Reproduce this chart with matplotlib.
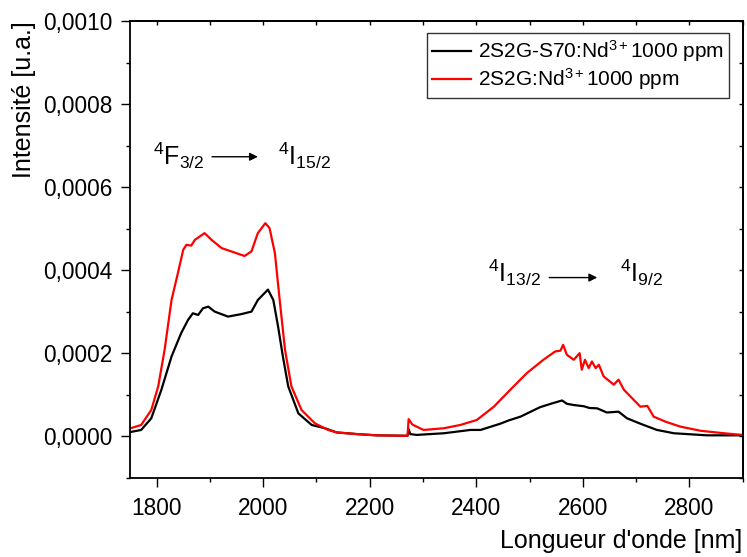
import matplotlib
matplotlib.use("Agg")
import matplotlib.pyplot as plt
from matplotlib.ticker import MultipleLocator, FuncFormatter
import numpy as np

plt.rcParams['font.family'] = ['Liberation Sans', 'DejaVu Sans']
plt.rcParams['mathtext.fontset'] = 'custom'
plt.rcParams['mathtext.rm'] = 'Liberation Sans'
plt.rcParams['mathtext.it'] = 'Liberation Sans:italic'
plt.rcParams['mathtext.bf'] = 'Liberation Sans:bold'

# Emission spectra (intensity in units of 1e-4 a.u.)
SCALE = 1e-4

black_x = [1751, 1771, 1790, 1809, 1828, 1846, 1859, 1868, 1878, 1887, 1897, 1909,
           1934, 1959, 1978, 1990, 2009, 2019, 2028, 2037, 2047, 2066, 2091, 2116,
           2138, 2176, 2213, 2263, 2271, 2273, 2276, 2288, 2339, 2389, 2408, 2445,
           2461, 2483, 2520, 2545, 2561, 2570, 2583, 2602, 2612, 2627, 2645, 2667,
           2683, 2708, 2739, 2771, 2833, 2899]
black_y = [0.10, 0.15, 0.43, 1.12, 1.92, 2.48, 2.80, 2.96, 2.92, 3.08, 3.12, 3.00,
           2.88, 2.94, 3.00, 3.28, 3.53, 3.28, 2.64, 1.92, 1.20, 0.55, 0.27, 0.19,
           0.09, 0.05, 0.02, 0.01, 0.01, 0.17, 0.05, 0.03, 0.07, 0.15, 0.15, 0.30,
           0.38, 0.47, 0.70, 0.80, 0.86, 0.78, 0.75, 0.72, 0.68, 0.67, 0.57, 0.59,
           0.43, 0.30, 0.15, 0.07, 0.02, 0.02]

red_x = [1751, 1771, 1790, 1803, 1815, 1828, 1840, 1850, 1856, 1865, 1872, 1890,
         1903, 1922, 1947, 1965, 1978, 1990, 2004, 2012, 2022, 2031, 2041, 2053,
         2072, 2097, 2122, 2138, 2176, 2213, 2263, 2271, 2273, 2280, 2288, 2301,
         2339, 2370, 2401, 2433, 2464, 2495, 2526, 2548, 2558, 2563, 2570, 2583,
         2594, 2598, 2604, 2611, 2617, 2624, 2630, 2639, 2658, 2667, 2677, 2692,
         2708, 2721, 2733, 2755, 2783, 2821, 2865, 2899]
red_y = [0.19, 0.27, 0.63, 1.20, 2.08, 3.28, 3.93, 4.49, 4.61, 4.59, 4.73, 4.89,
         4.73, 4.53, 4.42, 4.34, 4.45, 4.89, 5.13, 5.01, 4.41, 3.28, 2.08, 1.20,
         0.63, 0.31, 0.15, 0.09, 0.05, 0.02, 0.01, 0.01, 0.41, 0.28, 0.23, 0.15,
         0.19, 0.27, 0.39, 0.71, 1.12, 1.52, 1.84, 2.04, 2.06, 2.20, 1.96, 1.84,
         2.00, 1.60, 1.84, 1.64, 1.80, 1.64, 1.72, 1.44, 1.24, 1.36, 1.12, 0.92,
         0.71, 0.73, 0.47, 0.35, 0.23, 0.13, 0.07, 0.03]

labels = ["2S2G-S70:Nd$\\mathregular{^{3+}}$1000 ppm",
          "2S2G:Nd$\\mathregular{^{3+}}$1000 ppm"]

fig = plt.figure(figsize=(7.47, 5.57), dpi=100)
ax = fig.add_axes([0.174, 0.1424, 0.8202, 0.8199])

ax.plot(black_x, np.array(black_y) * SCALE, color='black', lw=1.6, label=labels[0])
ax.plot(red_x, np.array(red_y) * SCALE, color='red', lw=1.6, label=labels[1])

ax.set_xlim(1750, 2900)
ax.set_ylim(-0.0001, 0.0010)

ax.xaxis.set_major_locator(MultipleLocator(200))
ax.xaxis.set_minor_locator(MultipleLocator(100))
ax.yaxis.set_major_locator(MultipleLocator(0.0002))
ax.yaxis.set_minor_locator(MultipleLocator(0.0001))
ax.yaxis.set_major_formatter(FuncFormatter(
    lambda v, p: f"{abs(v) if abs(v) < 1e-12 else v:.4f}".replace('.', ',')))

ax.tick_params(which='major', direction='out', length=6.5, width=1.0,
               labelsize=16.3)
ax.tick_params(axis='x', which='major', pad=7.5)
ax.tick_params(axis='y', which='major', pad=6)
ax.tick_params(which='minor', direction='out', length=3.2, width=1.0)
for s in ax.spines.values():
    s.set_linewidth(1.3)

# inward ticks on the opposite frame edges
top = ax.secondary_xaxis('top')
top.xaxis.set_major_locator(MultipleLocator(100))
top.tick_params(direction='in', length=3.2, width=1.0, labeltop=False)
top.spines['top'].set_linewidth(1.3)
right = ax.secondary_yaxis('right')
right.yaxis.set_major_locator(MultipleLocator(0.0001))
right.tick_params(direction='in', length=3.2, width=1.0, labelright=False)
right.spines['right'].set_linewidth(1.3)

ax.set_xlabel("Longueur d'onde [nm]", fontsize=18, loc='right')
ax.xaxis.set_label_coords(1.0, -0.113)
ax.set_ylabel("Intensité [u.a.]", fontsize=18, loc='top')
ax.yaxis.set_label_coords(-0.153, 1.0)

leg = ax.legend(loc='upper right', bbox_to_anchor=(0.977, 0.973),
                borderaxespad=0, fontsize=15, frameon=True, fancybox=False,
                handlelength=1.9, handletextpad=0.3, borderpad=0.25,
                labelspacing=0.1)
leg.get_frame().set_edgecolor('black')
leg.get_frame().set_linewidth(1.0)

# transition labels
ax.text(1794, 0.000653, "$\\mathregular{^4F_{3/2}}$", fontsize=18,
        ha='left', va='baseline')
ax.annotate('', xy=(1990, 0.000673), xytext=(1904, 0.000673),
            arrowprops=dict(arrowstyle='-|>', lw=1.0, color='black',
                            mutation_scale=12, shrinkA=0, shrinkB=0))
ax.text(2028, 0.000653, "$\\mathregular{^4I_{15/2}}$", fontsize=18,
        ha='left', va='baseline')

ax.text(2422, 0.000372, "$\\mathregular{^4I_{13/2}}$", fontsize=18,
        ha='left', va='baseline')
ax.annotate('', xy=(2627, 0.000382), xytext=(2537, 0.000382),
            arrowprops=dict(arrowstyle='-|>', lw=1.0, color='black',
                            mutation_scale=12, shrinkA=0, shrinkB=0))
ax.text(2670, 0.000372, "$\\mathregular{^4I_{9/2}}$", fontsize=18,
        ha='left', va='baseline')

fig.savefig("out.png", dpi=100)
